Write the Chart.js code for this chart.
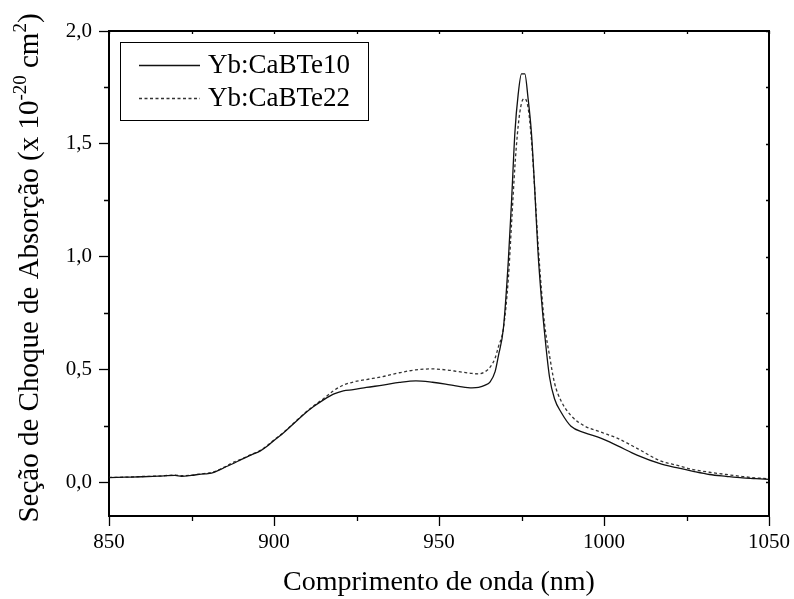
<!DOCTYPE html>
<html>
<head>
<meta charset="utf-8">
<script src="https://cdn.jsdelivr.net/npm/chart.js@4.4.1/dist/chart.umd.min.js"></script>
<style>
  html, body { margin: 0; padding: 0; background: #fff; }
  #wrap { width: 794px; height: 599px; }
</style>
</head>
<body>
<div id="wrap"><canvas id="grafico" width="794" height="599"></canvas></div>
<script>
// comprimento de onda (nm), comum às duas amostras
const comprimentos = [850, 855, 860, 865, 870, 872, 875, 878, 880, 882, 885, 888, 890, 893, 896, 898,
  900, 903, 906, 909, 912, 915, 918, 921, 924, 928, 933, 938, 943, 948, 952, 956, 960, 962, 964,
  965.5, 967, 968, 969.5, 971, 972, 973, 974, 975, 976, 977, 978, 979, 980, 981, 982, 983.5, 985,
  987, 990, 994, 999, 1004, 1010, 1017, 1022, 1027, 1032, 1037, 1042, 1046, 1050];

// seção de choque (x 10^-20 cm^2)
const secaoCaBTe10 = [0.020, 0.022, 0.024, 0.027, 0.030, 0.026, 0.030, 0.036, 0.038, 0.045, 0.065, 0.085, 0.100, 0.120, 0.140, 0.160,
  0.185, 0.220, 0.260, 0.300, 0.335, 0.365, 0.390, 0.405, 0.410, 0.420, 0.430, 0.442, 0.449, 0.443, 0.435, 0.425, 0.418, 0.420, 0.430,
  0.445, 0.490, 0.560, 0.680, 0.980, 1.250, 1.550, 1.720, 1.810, 1.810, 1.700, 1.550, 1.300, 1.020, 0.820, 0.660, 0.465, 0.370,
  0.310, 0.248, 0.220, 0.195, 0.162, 0.120, 0.082, 0.064, 0.048, 0.034, 0.026, 0.019, 0.016, 0.012];

const secaoCaBTe22 = [0.021, 0.022, 0.025, 0.027, 0.031, 0.029, 0.031, 0.037, 0.040, 0.047, 0.067, 0.090, 0.102, 0.122, 0.142, 0.163,
  0.187, 0.222, 0.262, 0.302, 0.338, 0.370, 0.405, 0.430, 0.444, 0.455, 0.468, 0.485, 0.498, 0.502, 0.498, 0.490, 0.482, 0.480, 0.490,
  0.510, 0.550, 0.600, 0.680, 0.900, 1.150, 1.400, 1.580, 1.680, 1.700, 1.660, 1.520, 1.300, 1.060, 0.860, 0.700, 0.560, 0.440,
  0.360, 0.295, 0.250, 0.222, 0.195, 0.150, 0.095, 0.075, 0.056, 0.044, 0.034, 0.025, 0.019, 0.015];

const rotulos = ['Yb:CaBTe10', 'Yb:CaBTe22'];

// marcas dos eixos
const xTicks = [850, 900, 950, 1000, 1050];
const xMinor = [875, 925, 975, 1025];
const yTicks = [0, 0.5, 1.0, 1.5, 2.0];
const yMinor = [0.25, 0.75, 1.25, 1.75];

const fonte = 'Liberation Serif, Times New Roman, serif';

const pontos = serie => comprimentos.map((w, i) => ({ x: w, y: serie[i] }));

// bordas de cima/direita, marcas menores, títulos dos eixos e legenda
const molduraPlugin = {
  id: 'moldura',
  afterDraw(chart) {
    const { ctx, chartArea: a, scales: { x, y } } = chart;
    ctx.save();
    ctx.strokeStyle = '#000';
    ctx.lineWidth = 2;
    ctx.beginPath();
    ctx.moveTo(a.left, a.top);
    ctx.lineTo(a.right, a.top);
    ctx.lineTo(a.right, a.bottom);
    ctx.stroke();

    ctx.lineWidth = 1.3;
    ctx.beginPath();
    xTicks.concat(xMinor).forEach(v => {
      const px = Math.round(x.getPixelForValue(v)) + 0.5;
      ctx.moveTo(px, a.top);
      ctx.lineTo(px, a.top + 3);
    });
    xMinor.forEach(v => {
      const px = Math.round(x.getPixelForValue(v)) + 0.5;
      ctx.moveTo(px, a.bottom);
      ctx.lineTo(px, a.bottom + 5);
    });
    yTicks.concat(yMinor).forEach(v => {
      const py = Math.round(y.getPixelForValue(v)) + 0.5;
      ctx.moveTo(a.right, py);
      ctx.lineTo(a.right - 3, py);
    });
    yMinor.forEach(v => {
      const py = Math.round(y.getPixelForValue(v)) + 0.5;
      ctx.moveTo(a.left, py);
      ctx.lineTo(a.left - 5, py);
    });
    ctx.stroke();

    ctx.fillStyle = '#000';
    // título do eixo x
    ctx.font = '28px ' + fonte;
    ctx.textAlign = 'center';
    ctx.textBaseline = 'alphabetic';
    ctx.fillText('Comprimento de onda (nm)', (a.left + a.right) / 2, 590);

    // título do eixo y com sobrescritos
    const partes = [
      { t: 'Seção de Choque de Absorção (x 10', sup: false },
      { t: '-20', sup: true },
      { t: ' cm', sup: false },
      { t: '2', sup: true },
      { t: ')', sup: false }
    ];
    const fNormal = '29px ' + fonte;
    const fSup = '19px ' + fonte;
    let total = 0;
    partes.forEach(p => {
      ctx.font = p.sup ? fSup : fNormal;
      p.w = ctx.measureText(p.t).width;
      total += p.w;
    });
    ctx.translate(38, 268);
    ctx.rotate(-Math.PI / 2);
    ctx.textAlign = 'left';
    let cx = -total / 2;
    partes.forEach(p => {
      ctx.font = p.sup ? fSup : fNormal;
      ctx.fillText(p.t, cx, p.sup ? -12 : 0);
      cx += p.w;
    });
    ctx.restore();

    // legenda
    ctx.save();
    ctx.strokeStyle = '#000';
    ctx.lineWidth = 1;
    ctx.strokeRect(120.5, 42.5, 248, 78);
    ctx.font = '27px ' + fonte;
    ctx.textAlign = 'left';
    ctx.textBaseline = 'middle';
    ctx.fillStyle = '#000';
    chart.data.datasets.forEach((ds, i) => {
      const ly = 65 + i * 33;
      ctx.strokeStyle = ds.borderColor;
      ctx.lineWidth = ds.borderWidth;
      ctx.setLineDash(ds.borderDash || []);
      ctx.beginPath();
      ctx.moveTo(139, ly + 0.5);
      ctx.lineTo(200, ly + 0.5);
      ctx.stroke();
      ctx.setLineDash([]);
      ctx.fillText(ds.label, 208, ly + 1);
    });
    ctx.restore();
  }
};

new Chart(document.getElementById('grafico').getContext('2d'), {
  type: 'line',
  data: {
    datasets: [
      {
        label: rotulos[0],
        data: pontos(secaoCaBTe10),
        borderColor: '#111',
        borderWidth: 1.3,
        pointRadius: 0,
        cubicInterpolationMode: 'monotone',
      },
      {
        label: rotulos[1],
        data: pontos(secaoCaBTe22),
        borderColor: '#333',
        borderWidth: 1.3,
        borderDash: [3, 2.5],
        pointRadius: 0,
        cubicInterpolationMode: 'monotone',
      },
    ],
  },
  options: {
    responsive: false,
    animation: false,
    devicePixelRatio: 1,
    layout: { padding: { top: 31, right: 25, left: 0, bottom: 0 } },
    plugins: {
      legend: { display: false },
      tooltip: { enabled: false },
    },
    scales: {
      x: {
        type: 'linear',
        min: 850,
        max: 1050,
        afterBuildTicks: s => { s.ticks = xTicks.map(v => ({ value: v })); },
        afterFit: s => { s.height = 83; },
        grid: { drawOnChartArea: false, tickLength: 10, tickColor: '#000', tickWidth: 1.3 },
        border: { color: '#000', width: 2 },
        ticks: {
          color: '#000',
          font: { family: fonte, size: 21 },
          padding: 4,
          maxRotation: 0,
          callback: v => String(v),
        },
      },
      y: {
        type: 'linear',
        min: -0.15,
        max: 2.0,
        afterBuildTicks: s => { s.ticks = yTicks.map(v => ({ value: v })); },
        afterFit: s => { s.width = 109; },
        grid: { drawOnChartArea: false, tickLength: 10, tickColor: '#000', tickWidth: 1.3 },
        border: { color: '#000', width: 2 },
        ticks: {
          color: '#000',
          font: { family: fonte, size: 21 },
          padding: 7,
          callback: v => v.toFixed(1).replace('.', ','),
        },
      },
    },
  },
  plugins: [molduraPlugin],
});
</script>
</body>
</html>
